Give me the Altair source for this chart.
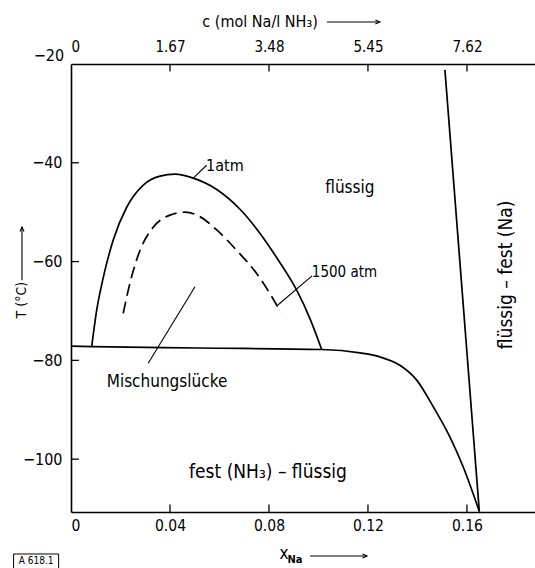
import altair as alt
import pandas as pd

FONT = "DejaVu Sans Condensed, DejaVu Sans, sans-serif"

# ---- data ----
atm1_x = [0.0084, 0.0104, 0.0131, 0.0171, 0.0225, 0.0292, 0.0360, 0.0420,
          0.0494, 0.0589, 0.0683, 0.0764, 0.0844, 0.0912, 0.0966, 0.1013]
atm1_T = [-77.1, -69.8, -63.1, -55.6, -49.0, -44.5, -42.7, -42.3,
          -43.1, -45.4, -49.4, -54.3, -60.2, -65.8, -71.6, -77.8]

atm1500_x = [0.0211, 0.0238, 0.0279, 0.0333, 0.0400, 0.0461, 0.0521, 0.0589,
             0.0669, 0.0750, 0.0804, 0.0847]
atm1500_T = [-70.5, -64.4, -57.7, -53.0, -50.6, -50.0, -50.9, -53.6,
             -57.7, -62.4, -66.5, -70.2]

sol_x = [0.0, 0.0084, 0.0521, 0.1013, 0.1168, 0.1248, 0.1329, 0.1397,
         0.1464, 0.1531, 0.1585, 0.1650]
sol_T = [-77.1, -77.2, -77.5, -77.8, -78.5, -79.3, -81.0, -84.0,
         -89.4, -95.5, -101.6, -110.6]

na_x = [0.1511, 0.1650]
na_T = [-21.2, -110.6]

x_tick_values = [0, 0.04, 0.08, 0.12, 0.16]
c_tick_labels = ["0", "1.67", "3.48", "5.45", "7.62"]
y_tick_values = [-40, -60, -80, -100]
y_top_label = -20

X_DOMAIN = [0, 0.1875]
Y_DOMAIN = [-110.7, -20]

xs = alt.Scale(domain=X_DOMAIN, nice=False, zero=False)
ys = alt.Scale(domain=Y_DOMAIN, nice=False, zero=False)


def curve_df(xv, tv):
    return pd.DataFrame({"x": xv, "T": tv, "i": list(range(len(xv)))})


def line(df, dash=None, interp="monotone"):
    kw = dict(color="black", strokeWidth=1.7, interpolate=interp)
    if dash:
        kw["strokeDash"] = dash
    return alt.Chart(df).mark_line(**kw).encode(
        x=alt.X("x:Q", scale=xs, axis=None),
        y=alt.Y("T:Q", scale=ys, axis=None),
        order="i:Q",
    )


c1 = line(curve_df(atm1_x, atm1_T))
c2 = line(curve_df(atm1500_x, atm1500_T), dash=[12, 6])
c3 = line(curve_df(sol_x, sol_T))
c4 = line(curve_df(na_x, na_T), interp="linear")

# ---- axes (labels via axes, inward ticks via rules) ----
bottom_ticks = pd.DataFrame({"x": x_tick_values[1:]})
bottom_ticks["y"] = Y_DOMAIN[0]
bottom_ticks["y2"] = Y_DOMAIN[0] + 1.5
bottom = alt.Chart(bottom_ticks).mark_rule(color="black", strokeWidth=1.3).encode(
    x=alt.X("x:Q", scale=xs, axis=alt.Axis(
        orient="bottom", values=x_tick_values, tickSize=0, labelPadding=6,
        labelExpr="datum.value == 0 ? '0' : format(datum.value, '.2f')",
        labelFont=FONT, labelFontSize=15.5, labelColor="black",
        domainColor="black", domainWidth=1.6, grid=False, title="")),
    y=alt.Y("y:Q", scale=ys, axis=None),
    y2="y2:Q",
)

top_ticks = pd.DataFrame({"x": x_tick_values[1:]})
top_ticks["y"] = Y_DOMAIN[1]
top_ticks["y2"] = Y_DOMAIN[1] - 1.5
label_list = "[" + ",".join("'%s'" % s for s in c_tick_labels) + "]"
top = alt.Chart(top_ticks).mark_rule(color="black", strokeWidth=1.3).encode(
    x=alt.X("x:Q", scale=xs, axis=alt.Axis(
        orient="top", values=x_tick_values, tickSize=0, labelPadding=10,
        labelExpr=label_list + "[round(datum.value / 0.04)]",
        labelFont=FONT, labelFontSize=15, labelColor="black",
        domainColor="black", domainWidth=1.6, grid=False, title="")),
    y=alt.Y("y:Q", scale=ys, axis=None),
    y2="y2:Q",
)

left_ticks = pd.DataFrame({"y": y_tick_values})
left_ticks["x"] = 0.0
left_ticks["x2"] = 0.0032
left = alt.Chart(left_ticks).mark_rule(color="black", strokeWidth=1.3).encode(
    x=alt.X("x:Q", scale=xs, axis=None),
    x2="x2:Q",
    y=alt.Y("y:Q", scale=ys, axis=alt.Axis(
        orient="left", values=y_tick_values, tickSize=0, labelPadding=9,
        format="d", labelFont=FONT, labelFontSize=16, labelColor="black",
        domainColor="black", domainWidth=1.6, grid=False, title="")),
)

# ---- leader lines and title arrows ----
seg = pd.DataFrame({
    "x":  [0.0494, 0.0836, 0.0312, 0.1034, -0.0198, 0.0966],
    "y":  [-43.1, -68.8, -80.6, -11.5, -63.8, -119.6],
    "x2": [0.0548, 0.0974, 0.0501, 0.1248, -0.0198, 0.1196],
    "y2": [-40.5, -62.9, -65.1, -11.5, -53.0, -119.6],
})
segs = alt.Chart(seg).mark_rule(color="black", strokeWidth=1.1).encode(
    x=alt.X("x:Q", scale=xs, axis=None), x2="x2:Q",
    y=alt.Y("y:Q", scale=ys, axis=None), y2="y2:Q",
)

heads_r = pd.DataFrame({"x": [0.1248, 0.1196], "y": [-11.5, -119.6]})
head_r = alt.Chart(heads_r).mark_point(
    shape="M-1,-0.45L0,0L-1,0.45", filled=False, color="black",
    strokeWidth=1.1, size=80, opacity=1).encode(
    x=alt.X("x:Q", scale=xs, axis=None), y=alt.Y("y:Q", scale=ys, axis=None))

heads_u = pd.DataFrame({"x": [-0.0198], "y": [-53.0]})
head_u = alt.Chart(heads_u).mark_point(
    shape="M-0.45,1L0,0L0.45,1", filled=False, color="black",
    strokeWidth=1.1, size=80, opacity=1).encode(
    x=alt.X("x:Q", scale=xs, axis=None), y=alt.Y("y:Q", scale=ys, axis=None))

# ---- texts ----
txt = pd.DataFrame({
    "label": ["1atm", "flüssig", "1500 atm", "Mischungslücke",
              "fest (NH₃) – flüssig", "flüssig – fest (Na)",
              "T (°C)", "c (mol Na/l NH₃)", "x", "−%d" % abs(y_top_label)],
    "x": [0.0622, 0.1127, 0.1105, 0.0388, 0.0796, 0.1758,
          -0.0198, 0.0764, 0.0861, -0.0089],
    "y": [-40.7, -45.1, -62.1, -84.4, -102.6, -62.7,
          -67.8, -11.5, -119.3, y_top_label + 1.6],
    "angle": [0, 0, 0, 0, 0, 270, 270, 0, 0, 0],
    "size": [16, 17, 15, 17, 19, 19, 14, 16, 17, 16],
})
texts = alt.Chart(txt).mark_text(font=FONT, color="black", baseline="middle",
                                 align="center").encode(
    x=alt.X("x:Q", scale=xs, axis=None),
    y=alt.Y("y:Q", scale=ys, axis=None),
    text="label:N",
    angle=alt.Angle("angle:Q", scale=None),
    size=alt.Size("size:Q", scale=None, legend=None),
)

sub = pd.DataFrame({"label": ["Na"], "x": [0.0905], "y": [-120.4]})
subtxt = alt.Chart(sub).mark_text(font=FONT, color="black", baseline="middle",
                                  align="center", fontSize=11, fontWeight="bold").encode(
    x=alt.X("x:Q", scale=xs, axis=None),
    y=alt.Y("y:Q", scale=ys, axis=None),
    text="label:N",
)

tag = pd.DataFrame({"label": ["A 618.1"], "x": [-0.0141], "y": [-120.6],
                    "x1": [-0.0232], "x2": [-0.0050], "y1": [-119.2], "y2": [-122.2]})
tagtxt = alt.Chart(tag).mark_text(font=FONT, color="black", baseline="middle",
                                  align="center", fontSize=10).encode(
    x=alt.X("x:Q", scale=xs, axis=None),
    y=alt.Y("y:Q", scale=ys, axis=None),
    text="label:N",
)
tagbox = alt.Chart(tag).mark_rect(fill="white", fillOpacity=0, stroke="black",
                                  strokeWidth=1).encode(
    x=alt.X("x1:Q", scale=xs, axis=None), x2="x2:Q",
    y=alt.Y("y1:Q", scale=ys, axis=None), y2="y2:Q",
)

chart = alt.layer(
    bottom, top, left, c1, c2, c3, c4, segs, head_r, head_u,
    texts, subtxt, tagbox, tagtxt,
).resolve_axis(x="independent", y="independent").properties(
    width=464, height=448,
    padding={"left": 71, "top": 64, "right": 0, "bottom": 56},
    autosize=alt.AutoSizeParams(type="none"),
    background="white",
).configure_view(stroke=None)

chart.save("out.html", embed_options={"renderer": "svg", "actions": False})
